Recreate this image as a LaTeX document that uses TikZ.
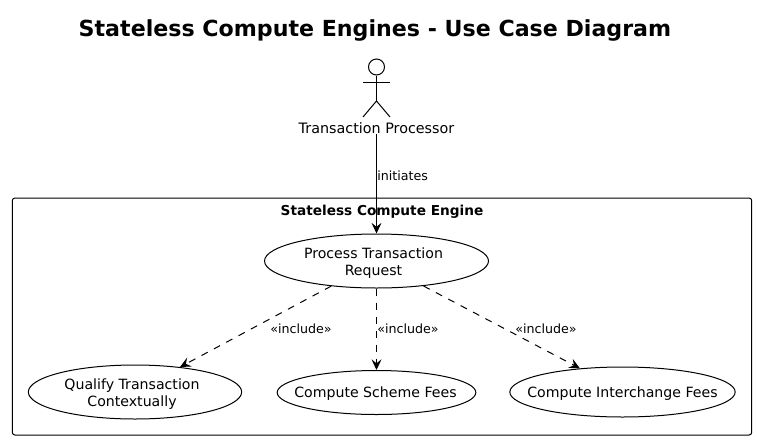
\documentclass[tikz,border=0pt]{standalone}
\usepackage{fontspec}
\setmainfont{DejaVu Sans}
\usetikzlibrary{arrows.meta}
\usetikzlibrary{shapes}
\tikzset{
  x=0.75pt,y=-0.75pt,
  every label/.style={font=\fontsize{10.6pt}{12.75pt}\selectfont,align=center,inner sep=0pt,yshift=-1pt},
  usecase/.style={ellipse,draw=black,fill=white,inner sep=0pt,line width=0.75pt},
  lbl/.style={font=\fontsize{9.5pt}{11pt}\selectfont,inner sep=0pt},
  flow/.style={draw=black,line width=0.75pt,-{Stealth[length=8pt,width=7.5pt,inset=3pt]}},
  include/.style={flow,dash pattern=on 5.25pt off 5.25pt}
}
\begin{document}
\begin{tikzpicture}
  \useasboundingbox (0,0) rectangle (757,440);
  \fill[white] (0,0) rectangle (757,440);
  \node[font=\bfseries\fontsize{16.6pt}{20pt}\selectfont,inner sep=0pt] (title) at (375,30) {Stateless Compute Engines - Use Case Diagram};
  % actor
  \begin{scope}[line width=0.75pt]
  \node[circle,draw,minimum size=12pt,inner sep=0pt] (head) at (376.5,67) {};
  \coordinate (hip) at (376.5,101);
  \coordinate (armL) at (363,82);
  \coordinate (armR) at (390,82);
  \coordinate (footL) at (363,117);
  \coordinate (footR) at (390,117);
  \draw (head) -- (hip);
  \draw (armL) -- (armR);
  \draw (footL) -- (hip) -- (footR);
  \end{scope}
  \node[font=\fontsize{10.75pt}{13pt}\selectfont,inner sep=0pt] (actor) at (376.5,128) {Transaction Processor};
  % system box
  \node[draw,line width=0.75pt,rounded corners=2pt,inner sep=0pt,minimum width=554.6pt,minimum height=177.75pt] (sys) at (382,316.5) {};
  \node[font=\bfseries\fontsize{10.25pt}{12pt}\selectfont,inner sep=0pt] (systitle) at (382,211.5) {Stateless Compute Engine};
  % use cases
  \node[usecase,minimum width=168pt,minimum height=40.5pt,label={[xshift=-2.25pt,yshift=-0.75pt]center:Process Transaction\\Request}] (req) at (376.5,261) {};
  \node[usecase,minimum width=160pt,minimum height=40.5pt,label={[xshift=-2.25pt,yshift=-0.75pt]center:Qualify Transaction\\Contextually}] (qual) at (135,392) {};
  \node[usecase,minimum width=149pt,minimum height=33pt,label={[xshift=-0.75pt]center:Compute Scheme Fees}] (scheme) at (376.5,392.5) {};
  \node[usecase,minimum width=169pt,minimum height=37.5pt,label={center:Compute Interchange Fees}] (inter) at (622.5,392) {};
  % connectors
  \draw[flow] (actor.south) -- (req.north);
  \draw[include] (req.209.6) -- (qual.29.6);
  \draw[include] (req.south) -- (scheme.north);
  \draw[include] (req.-28) -- (inter.151.6);
  \node[lbl,anchor=west] (l0) at (377,176) {initiates};
  \node[lbl,anchor=west] (l1) at (270,329) {«include»};
  \node[lbl,anchor=west] (l2) at (377,329) {«include»};
  \node[lbl,anchor=west] (l3) at (515,329) {«include»};
\end{tikzpicture}
\end{document}
